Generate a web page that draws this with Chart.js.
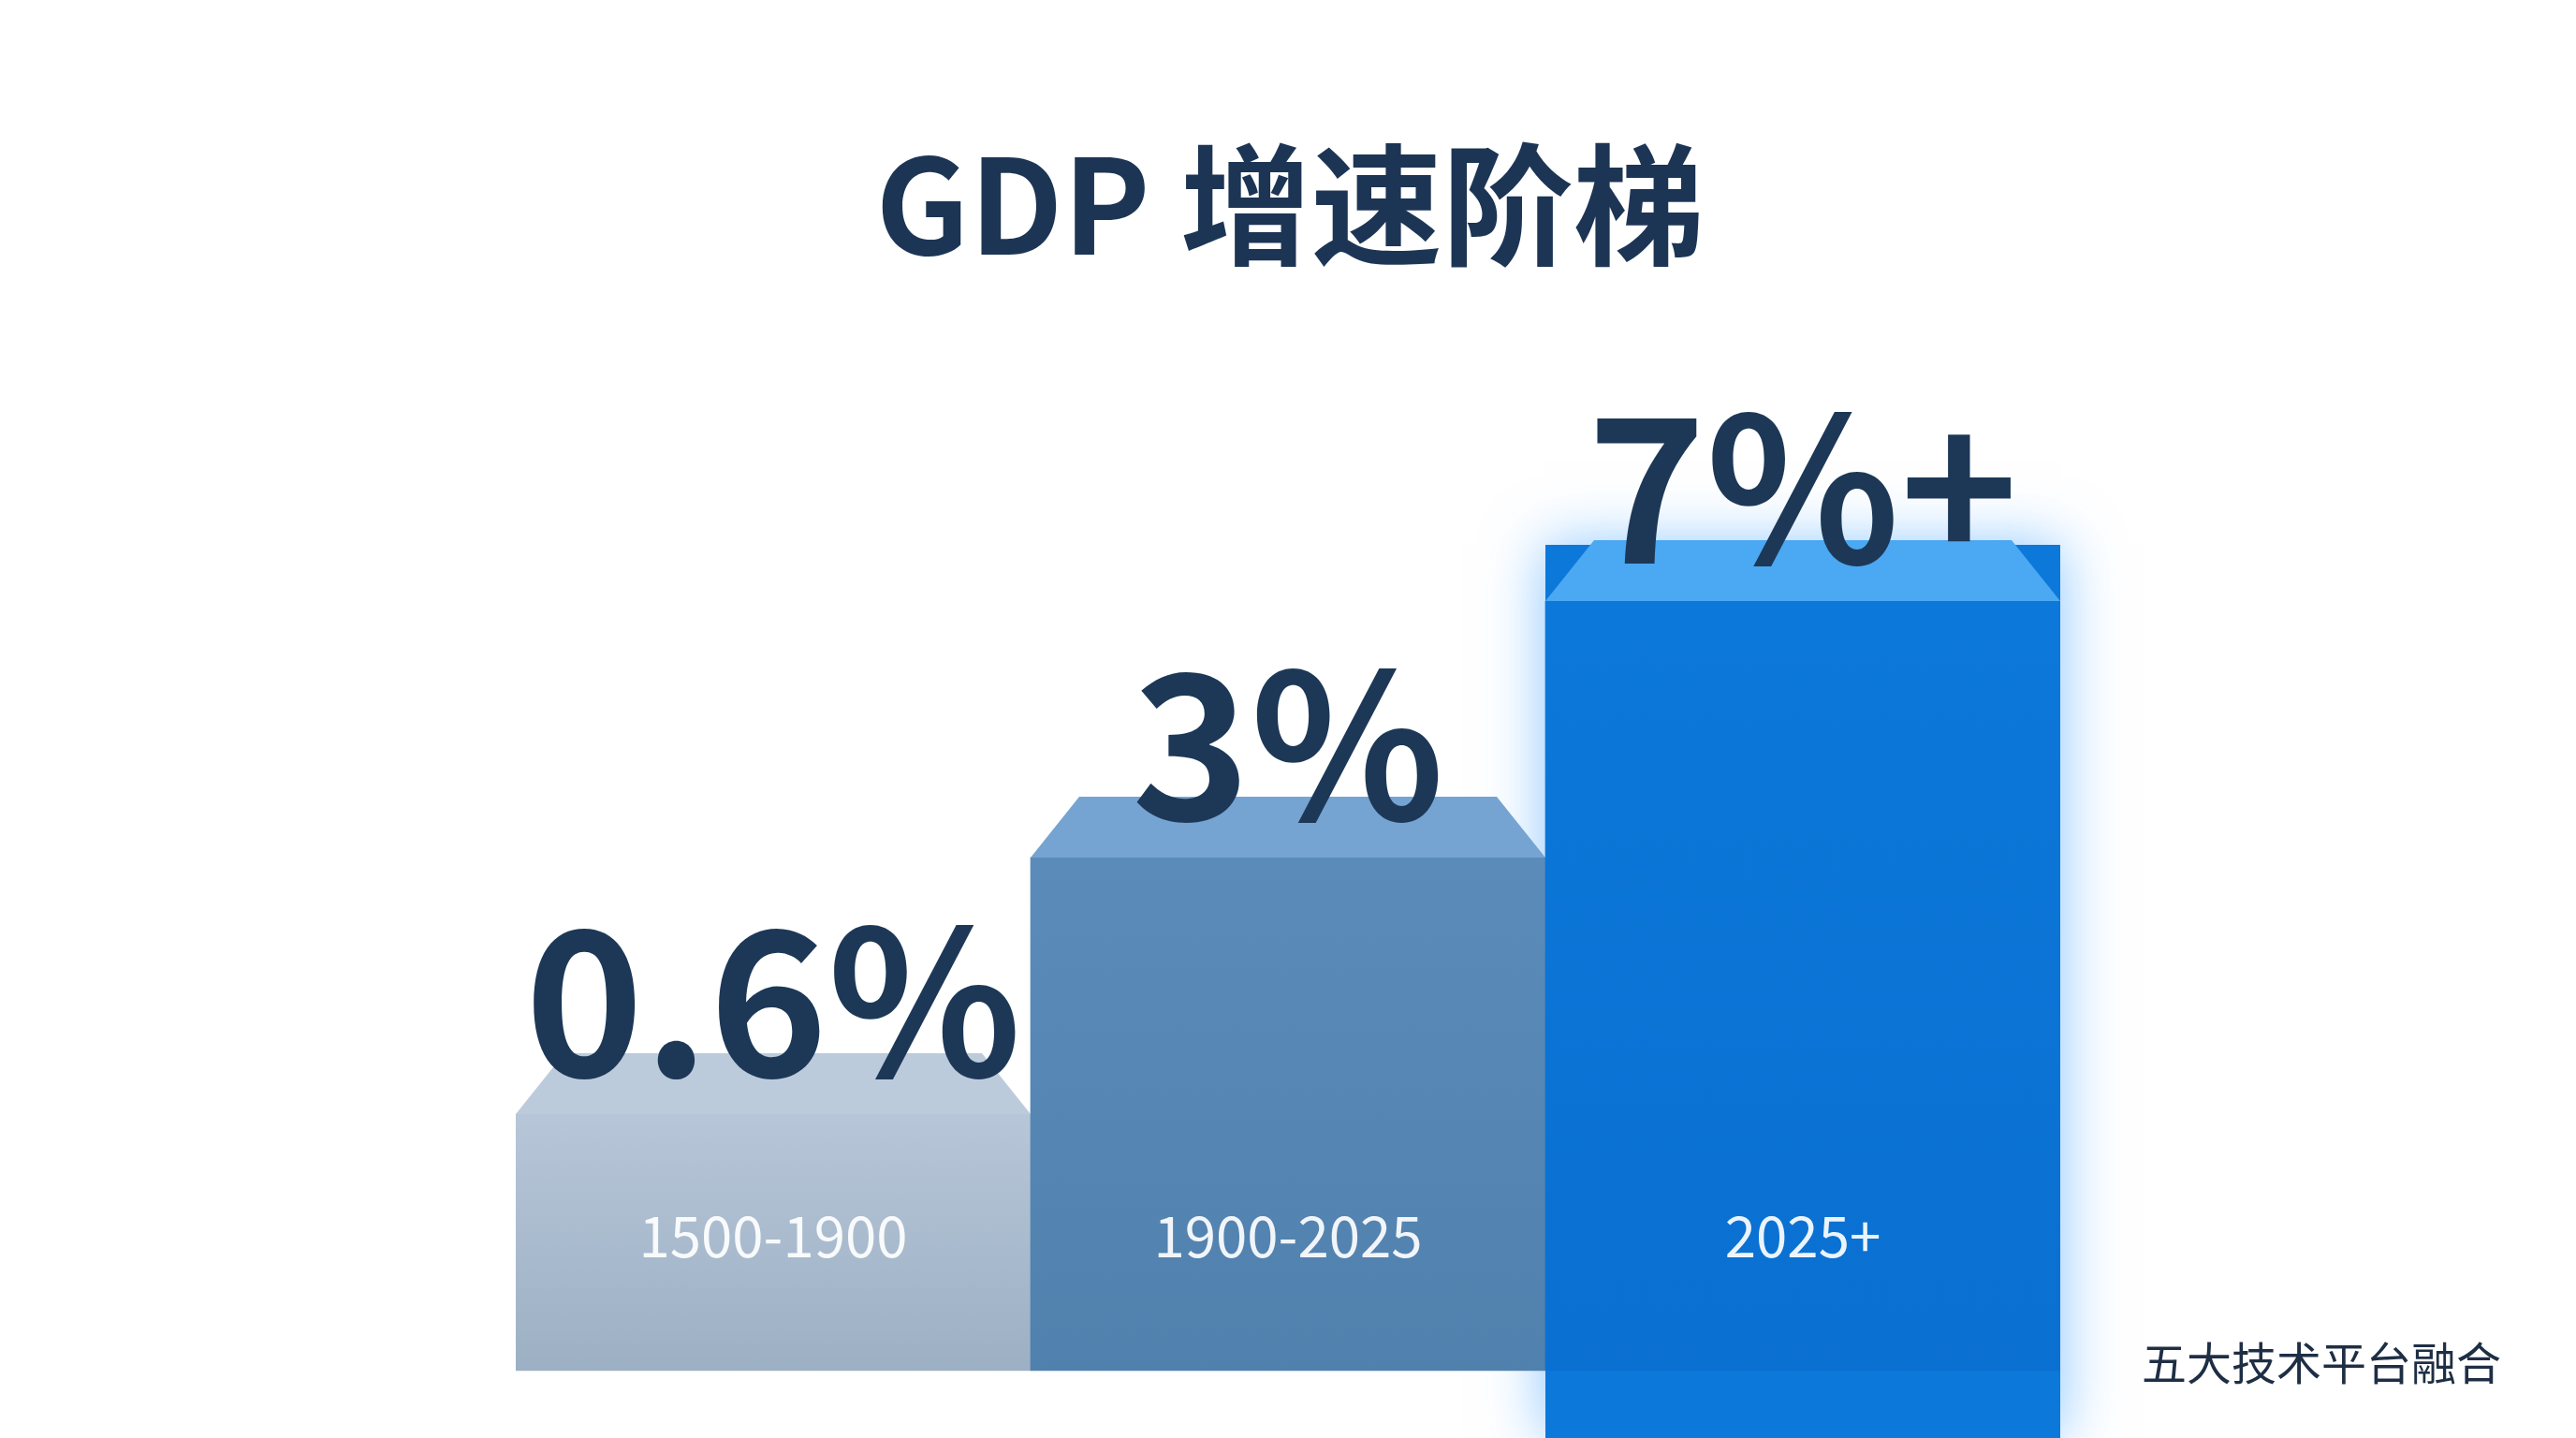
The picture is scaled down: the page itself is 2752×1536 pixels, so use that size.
<!DOCTYPE html>
<html>
<head>
<meta charset="utf-8">
<script src="https://cdn.jsdelivr.net/npm/chart.js@4"></script>
<style>
  html, body { margin: 0; padding: 0; background: #fff; }
  #wrap { width: 2752px; height: 1536px; position: relative; }
</style>
</head>
<body>
<div id="wrap"><canvas id="c" width="2752" height="1536"></canvas></div>
<script>
// GDP growth staircase
const periods = ['1500-1900', '1900-2025', '2025+'];
const valueLabels = ['0.6%', '3%', '7%+'];
const stepLevels = [1, 2, 3]; // staircase steps (not proportional to growth)
const title = 'GDP 增速阶梯';
const footnote = '五大技术平台融合';

const faceTop = ['#b7c6d8', '#5b8bb9', '#0c78da'];
const faceBottom = ['#95aabf', '#4f7fab', '#0a6fd0'];
const capColors = ['#bccbdc', '#75a4d2', '#4ba8f2'];
const FONT = '"Noto Sans CJK SC", "Noto Sans", sans-serif';

function faceGradient(ctx) {
  const chart = ctx.chart;
  const area = chart.chartArea;
  const i = ctx.dataIndex;
  const ys = chart.scales && chart.scales.y;
  if (!area || !ys) return faceBottom[i];
  const top = ys.getPixelForValue(stepLevels[i]);
  if (!isFinite(top) || !isFinite(area.bottom)) return faceBottom[i];
  const g = chart.ctx.createLinearGradient(0, top, 0, area.bottom);
  g.addColorStop(0, faceTop[i]);
  g.addColorStop(1, faceBottom[i]);
  return g;
}

const stairPlugin = {
  id: 'stair',
  beforeDatasetsDraw(chart) {
    const c = chart.ctx;
    const bar = chart.getDatasetMeta(0).data[2];
    if (!bar) return;
    c.save();
    c.shadowColor = 'rgba(40,150,255,0.55)';
    c.shadowBlur = 60;
    c.fillStyle = '#0c78da';
    c.fillRect(bar.x - bar.width / 2, bar.y - 60, bar.width, chart.chartArea.bottom - bar.y + 60);
    c.restore();
  },
  afterDatasetsDraw(chart) {
    const c = chart.ctx;
    const meta = chart.getDatasetMeta(0);
    meta.data.forEach((bar, i) => {
      const l = bar.x - bar.width / 2, r = bar.x + bar.width / 2;
      const capH = 65, inset = 52;
      c.save();
      c.fillStyle = capColors[i];
      c.beginPath();
      c.moveTo(l, bar.y);
      c.lineTo(l + inset, bar.y - capH);
      c.lineTo(r - inset, bar.y - capH);
      c.lineTo(r, bar.y);
      c.closePath();
      c.fill();
      // value label
      c.fillStyle = '#1d3857';
      c.font = 'bold 215px ' + FONT;
      c.textAlign = 'center';
      c.textBaseline = 'alphabetic';
      c.fillText(valueLabels[i], bar.x, bar.y - 40);
      // period label
      c.fillStyle = 'rgba(255,255,255,0.92)';
      c.font = '60px ' + FONT;
      c.textBaseline = 'middle';
      c.fillText(periods[i], bar.x, 1320);
      c.restore();
    });
    c.save();
    c.fillStyle = '#1d3555';
    c.font = 'bold 140px ' + FONT;
    c.textAlign = 'center';
    c.textBaseline = 'middle';
    c.fillText(title, 1378, 219);
    c.fillStyle = '#1e2e44';
    c.font = '48px ' + FONT;
    c.textAlign = 'right';
    c.fillText(footnote, 2672, 1456);
    c.restore();
  }
};

new Chart(document.getElementById('c'), {
  type: 'bar',
  data: {
    labels: periods,
    datasets: [{
      data: stepLevels,
      backgroundColor: faceGradient,
      borderWidth: 0,
      categoryPercentage: 1,
      barPercentage: 1
    }]
  },
  options: {
    responsive: false,
    animation: false,
    layout: { padding: { left: 551, right: 551, top: 368, bottom: 0 } },
    scales: {
      x: { display: false },
      y: { display: false, min: -0.263, max: 4 }
    },
    plugins: { legend: { display: false }, tooltip: { enabled: false } }
  },
  plugins: [stairPlugin]
});
</script>
</body>
</html>
